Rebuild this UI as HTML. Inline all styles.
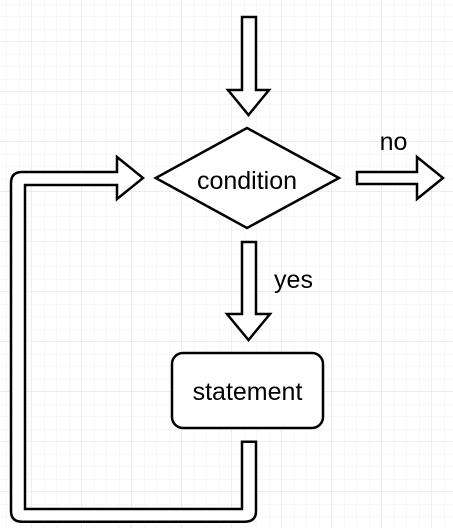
<!DOCTYPE html>
<html><head><meta charset="utf-8"><style>html,body{margin:0;padding:0;background:#fff}svg{display:block}</style></head>
<body>
<svg width="453" height="528" viewBox="0 0 453 528" xmlns="http://www.w3.org/2000/svg">
<defs>
<pattern id="minor" x="6.5" y="4" width="12.5" height="12.5" patternUnits="userSpaceOnUse">
<path d="M0 0H12.5M0 0V12.5" stroke="#f0f0f0" stroke-width="1" fill="none"/>
</pattern>
<pattern id="major" x="31.5" y="41.5" width="50" height="50" patternUnits="userSpaceOnUse">
<path d="M0 0H50M0 0V50" stroke="#dedede" stroke-width="1" fill="none"/>
</pattern>
</defs>
<rect width="453" height="528" fill="#fff"/>
<rect width="453" height="528" fill="url(#minor)"/>
<rect width="453" height="528" fill="url(#major)"/>
<g fill="#fff" stroke="#000" stroke-width="2.5" stroke-linejoin="miter">
<polygon points="242,17 256,17 256,90 269,90 248.5,115 228,90 242,90"/>
<polygon points="247,128 339,178 247,228 155.7,178"/>
<polygon points="357,172 417,172 417,157 443,178 417,199 417,184 357,184"/>
<polygon points="242,242 256,242 256,314 270,314 248.5,340 227,314 242,314"/>
<rect x="172" y="353" width="151" height="75" rx="11"/>
<path d="M242,441.7 H256 V511 Q256,521.7 245,521.7 H22 Q11,521.7 11,511 V183 Q11,172 22,172 H117 V157 L143,178 L117,199 V185 H25 V509 H242 Z"/>
</g>
<g font-family="Liberation Sans, sans-serif" font-size="25" fill="#000" text-anchor="middle">
<text x="247" y="189">condition</text>
<text x="247.5" y="400">statement</text>
<text x="393.5" y="150">no</text>
<text x="293.5" y="288">yes</text>
</g>
</svg>
</body></html>
